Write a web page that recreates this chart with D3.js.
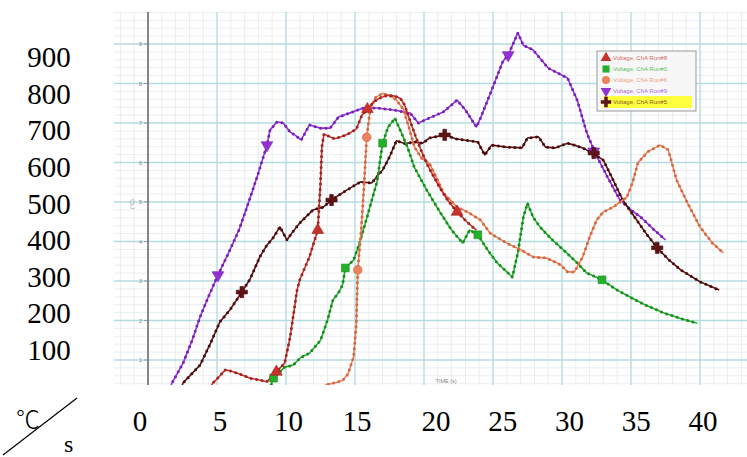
<!DOCTYPE html>
<html><head><meta charset="utf-8">
<script src="https://cdn.jsdelivr.net/npm/d3@7"></script>
<style>html,body{margin:0;padding:0;background:#fff;overflow:hidden;}</style>
</head><body><svg id="c" width="747" height="457"></svg>
<script>
// ---------- data ----------
const xTickLabels = [0, 5, 10, 15, 20, 25, 30, 35, 40];
const yTickLabels = [100, 200, 300, 400, 500, 600, 700, 800, 900];
const innerTickLabels = ["1","2","3","4","5","6","7","8","9"];
const legendNames = ["Voltage, ChA Run#8", "Voltage, ChA Run#0", "Voltage, ChA Run#6", "Voltage, ChA Run#9", "Voltage, ChA Run#5"];

// [time s, temperature °C]
const redRun = [[4.4,20],[4.7,42],[5.0,52],[5.6,75],[6.0,72],[6.45,67],[7.4,54],[8.0,50],[8.6,45],[9.3,70],[9.9,92],[10.3,158],[10.8,277],[11.0,303],[11.5,345],[11.7,361],[12.3,429],[12.5,548],[12.6,639],[12.75,672],[13.0,668],[13.5,660],[14.0,665],[14.5,672],[15.1,685],[15.5,720],[15.9,735],[16.4,755],[16.9,765],[17.4,770],[17.9,768],[18.3,762],[18.6,745],[19.0,705],[19.4,665],[19.8,630],[20.3,590],[21.0,545],[21.7,505],[22.4,475],[23.1,450],[23.8,428]];
const redMarks = [[9.3,70],[12.3,429],[15.9,735],[22.4,475]];

const greenRun = [[8.8,25],[9.1,54],[9.9,82],[10.5,87],[11.1,107],[11.7,117],[12.5,150],[13.0,200],[13.4,252],[13.8,270],[14.1,290],[14.3,333],[14.9,353],[15.4,404],[15.9,465],[16.6,552],[17.0,649],[17.4,690],[17.9,712],[18.3,680],[18.8,639],[19.3,588],[20.2,530],[21.2,472],[22.0,429],[22.8,396],[23.3,429],[23.9,417],[24.6,379],[25.3,346],[26.4,310],[26.8,371],[27.2,462],[27.5,497],[27.9,462],[28.4,437],[29.3,404],[30.1,379],[31.1,346],[31.8,320],[32.9,303],[34.0,277],[34.9,260],[36.0,240],[37.3,220],[38.6,205],[39.8,193]];
const greenMarks = [[9.1,54],[14.3,333],[17.0,649],[23.9,417],[32.9,303]];

const orangeRun = [[12.5,20],[12.9,37],[13.5,42],[14.1,48],[14.5,65],[14.9,108],[15.1,194],[15.2,328],[15.45,430],[15.65,540],[15.85,664],[16.1,735],[16.5,765],[17.0,775],[17.5,770],[18.0,758],[18.5,735],[18.9,690],[19.3,640],[19.8,612],[20.4,597],[21.0,555],[21.4,523],[22.4,487],[23.3,472],[24.1,454],[24.8,421],[26.0,396],[27.0,379],[27.9,361],[28.9,358],[29.9,341],[30.4,323],[30.9,323],[31.5,361],[32.0,411],[32.5,454],[33.0,475],[33.7,487],[34.7,512],[35.1,548],[35.5,599],[36.2,627],[37.1,644],[37.7,632],[38.3,556],[39.1,497],[40.0,437],[40.9,396],[41.7,371]];
const orangeMarks = [[15.2,328],[15.85,664]];

const purpleRun = [[1.5,20],[1.74,42],[2.54,92],[3.2,150],[3.77,209],[4.4,262],[5.07,315],[5.94,379],[6.6,430],[7.17,487],[7.9,563],[8.62,644],[8.84,682],[9.35,703],[9.8,700],[10.3,677],[10.7,668],[11.1,657],[11.7,695],[12.5,687],[13.2,687],[13.8,715],[14.6,725],[15.6,738],[16.6,738],[17.8,733],[19.0,725],[19.6,700],[20.4,713],[21.4,728],[22.4,758],[23.0,733],[23.8,690],[24.1,713],[24.9,783],[25.7,855],[26.1,872],[26.8,928],[27.2,897],[27.9,885],[29.0,839],[30.4,814],[31.1,758],[31.8,675],[32.4,624],[33.3,563],[34.2,505],[35.0,480],[35.7,462],[36.6,432],[37.5,404]];
const purpleMarks = [[5.07,315],[8.62,644],[26.1,872],[32.3,628]];

const brownRun = [[2.3,20],[2.54,42],[3.77,87],[4.5,140],[5.2,196],[5.94,227],[6.8,272],[7.4,305],[8.1,361],[8.6,390],[9.06,409],[9.56,437],[10.07,404],[10.5,425],[11.0,447],[11.96,480],[12.7,487],[13.3,505],[14.4,530],[15.4,551],[16.2,548],[17.0,581],[17.5,614],[18.0,655],[18.6,648],[19.3,652],[19.9,649],[20.4,662],[21.5,670],[22.3,660],[22.9,657],[23.9,652],[24.4,619],[24.9,644],[26.0,639],[27.1,637],[27.5,662],[28.3,665],[28.8,639],[29.5,637],[30.4,649],[30.9,644],[31.5,637],[32.2,624],[33.0,606],[33.7,556],[34.4,505],[35.4,455],[36.1,420],[36.9,384],[37.7,355],[38.6,328],[40.0,298],[41.4,277]];
const brownMarks = [[6.8,272],[13.3,505],[21.5,670],[32.3,624],[36.9,384]];

// ---------- drawing ----------
const svg = d3.select("#c");
svg.append("rect").attr("width",747).attr("height",457).attr("fill","#fff");

const x = d3.scaleLinear().domain([0,40]).range([148,700]);
const y = d3.scaleLinear().domain([0,900]).range([399.5,44]);
const plot = {x0:114, x1:747, y0:12, y1:385};
const tMin = x.invert(plot.x0), tMax = x.invert(plot.x1);
const vMax = y.invert(plot.y0);

const defs = svg.append("defs");
defs.append("clipPath").attr("id","pc").append("rect")
  .attr("x",plot.x0).attr("y",plot.y0).attr("width",plot.x1-plot.x0).attr("height",plot.y1-plot.y0);

const g = svg.append("g").attr("clip-path","url(#pc)");
g.append("rect").attr("x",plot.x0).attr("y",plot.y0).attr("width",plot.x1-plot.x0).attr("height",plot.y1-plot.y0).attr("fill","#fff");

// minor grid
const minorX = d3.range(Math.ceil(tMin), Math.floor(tMax)+1, 1).filter(t => t % 5 !== 0);
const minorY = d3.range(20, vMax, 20).filter(v => v % 100 !== 0);
g.selectAll(".mx").data(minorX).join("line")
  .attr("x1",d=>x(d)).attr("x2",d=>x(d)).attr("y1",plot.y0).attr("y2",plot.y1)
  .attr("stroke","#e9eeee").attr("stroke-width",1);
g.selectAll(".my").data(minorY).join("line")
  .attr("x1",plot.x0).attr("x2",plot.x1).attr("y1",d=>y(d)).attr("y2",d=>y(d))
  .attr("stroke","#e9eeee").attr("stroke-width",1);
// major grid
const majorX = d3.range(5, tMax, 5);
const majorY = d3.range(100, vMax, 100);
g.selectAll(".Mx").data(majorX).join("line")
  .attr("x1",d=>x(d)).attr("x2",d=>x(d)).attr("y1",plot.y0).attr("y2",plot.y1)
  .attr("stroke","#b4dce0").attr("stroke-width",1.4);
g.selectAll(".My").data(majorY).join("line")
  .attr("x1",plot.x0).attr("x2",plot.x1).attr("y1",d=>y(d)).attr("y2",d=>y(d))
  .attr("stroke","#b4dce0").attr("stroke-width",1.4);

// vertical axis line
g.append("line").attr("x1",x(0)).attr("x2",x(0)).attr("y1",plot.y0).attr("y2",plot.y1)
  .attr("stroke","#6a6a6a").attr("stroke-width",1.6);
// tiny inner tick labels
g.selectAll(".it").data(innerTickLabels).join("text")
  .attr("x",x(0)-6).attr("y",(d,i)=>y(yTickLabels[i])+2)
  .attr("text-anchor","end").attr("font-family","Arial, Liberation Sans, sans-serif")
  .attr("font-size",5.5).attr("fill","#888").text(d=>d);
g.selectAll(".tk").data(yTickLabels).join("line")
  .attr("x1",x(0)-4).attr("x2",x(0)).attr("y1",d=>y(d)).attr("y2",d=>y(d))
  .attr("stroke","#888").attr("stroke-width",0.8);
g.append("text").attr("transform",`translate(${x(0)-14},${y(500)+2}) rotate(-90)`)
  .attr("text-anchor","middle").attr("font-family","Arial, Liberation Sans, sans-serif")
  .attr("font-size",5.5).attr("fill","#999").text("(°C)");
g.append("text").attr("x",x(21.6)).attr("y",383)
  .attr("text-anchor","middle").attr("font-family","Arial, Liberation Sans, sans-serif")
  .attr("font-size",5.5).attr("fill","#888").text("TIME (s)");

// series
const series = [
  {data:purpleRun, marks:purpleMarks, color:"#9232d2", dot:"#7a20b8", sym:d3.symbolTriangle, rot:180},
  {data:brownRun,  marks:brownMarks,  color:"#5e1416", dot:"#4a0c0e", sym:d3.symbolCross, rot:0},
  {data:greenRun,  marks:greenMarks,  color:"#25b02a", dot:"#1b8a20", sym:d3.symbolSquare, rot:0},
  {data:orangeRun, marks:orangeMarks, color:"#ea825e", dot:"#d4683f", sym:d3.symbolCircle, rot:0},
  {data:redRun,    marks:redMarks,    color:"#c8322c", dot:"#9e2420", sym:d3.symbolTriangle, rot:0}
];
const line = d3.line().x(d=>x(d[0])).y(d=>y(d[1]));
series.forEach(s => {
  g.append("path").attr("d",line(s.data)).attr("fill","none")
    .attr("stroke",s.color).attr("stroke-width",1.6).attr("stroke-linejoin","round");
  g.append("path").attr("d",line(s.data)).attr("fill","none")
    .attr("stroke",s.dot).attr("stroke-width",3).attr("stroke-linecap","round")
    .attr("stroke-dasharray","0 5.5");
});
series.forEach(s => {
  g.selectAll(null).data(s.marks).join("path")
    .attr("d", d3.symbol().type(s.sym).size(s.sym===d3.symbolCross?70:60))
    .attr("transform", d=>`translate(${x(d[0])},${y(d[1])}) rotate(${s.rot})`)
    .attr("fill", s.color).attr("stroke", s.dot).attr("stroke-width",0.6);
});

// legend
const lg = svg.append("g");
lg.append("rect").attr("x",597).attr("y",51).attr("width",99).attr("height",60)
  .attr("fill","#f7f7f7").attr("stroke","#9a9a9a").attr("stroke-width",1);
const legendOrder = [series[4], series[2], series[3], series[0], series[1]];
lg.append("rect").attr("x",603).attr("y",96).attr("width",89).attr("height",12).attr("fill","#ffff40");
legendOrder.forEach((s,i) => {
  const cy = 58 + i*11;
  lg.append("path").attr("d", d3.symbol().type(s.sym).size(s.sym===d3.symbolCross?60:50))
    .attr("transform",`translate(606,${cy}) rotate(${s.rot})`).attr("fill",s.color);
  lg.append("text").attr("x",613).attr("y",cy+2.2).attr("font-family","Arial, Liberation Sans, sans-serif")
    .attr("font-size",6).attr("fill",s.color).attr("opacity",0.75).text(legendNames[i]);
});

// outer labels (overlay)
const serif = "'Liberation Serif','Times New Roman',serif";
const yLab = d3.scaleLinear().domain([100,900]).range([350,57]);
svg.selectAll(".yl").data(yTickLabels).join("text")
  .attr("x",49).attr("y",d=>yLab(d)+10).attr("text-anchor","middle")
  .attr("font-family",serif).attr("font-size",29).attr("fill","#000").text(d=>d);
const xLab = d3.scaleLinear().domain([0,5,15,20,40]).range([140,220,357,436,703]);
svg.selectAll(".xl").data(xTickLabels).join("text")
  .attr("x",d=>xLab(d)).attr("y",431).attr("text-anchor","middle")
  .attr("font-family",serif).attr("font-size",29).attr("fill","#000").text(d=>d);
svg.append("text").attr("x",16).attr("y",428)
  .attr("font-family","'Noto Sans CJK SC','Noto Sans CJK JP',serif").attr("font-weight",300)
  .attr("font-size",24).attr("fill","#000").text("℃");
svg.append("line").attr("x1",3).attr("y1",455).attr("x2",77).attr("y2",398)
  .attr("stroke","#000").attr("stroke-width",1.2);
svg.append("text").attr("x",64).attr("y",452).attr("font-family",serif)
  .attr("font-size",24).attr("fill","#000").text("s");
</script></body></html>
